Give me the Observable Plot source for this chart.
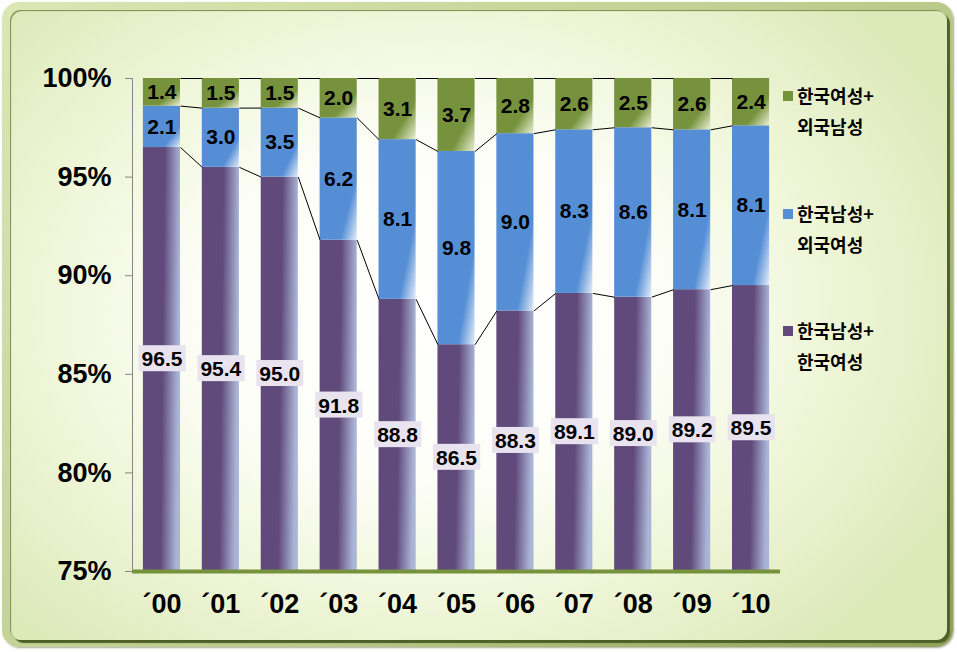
<!DOCTYPE html>
<html><head><meta charset="utf-8">
<script src="https://cdn.jsdelivr.net/npm/d3@7"></script>
<script src="https://cdn.jsdelivr.net/npm/@observablehq/plot@0.6"></script>
<style>
html,body{margin:0;padding:0;background:#fff;}
body{width:957px;height:652px;overflow:hidden;position:relative;font-family:"Liberation Sans",Arial,sans-serif;}
#frame{position:absolute;left:2px;top:2px;width:951px;height:645px;border-radius:17px;
  background:linear-gradient(135deg,#dbe7b5 0%,#b9c988 60%,#8fa158 100%);
  box-shadow:1px 1px 2px rgba(60,70,30,0.45);}
#inner{position:absolute;left:8px;top:8px;width:937px;height:630px;border-radius:11px;
  background:radial-gradient(ellipse 62% 70% at 45% 48%,#ffffff 0%,#fdfef8 38%,#eff6d8 68%,#dce9b9 100%);
  box-shadow:inset 1px 1px 1px #7b8c4a, 3px 3px 1px #4f5f28;}
#chart{position:absolute;left:0;top:0;}
#legend{position:absolute;left:0;top:0;font-family:"Noto Sans CJK KR",sans-serif;font-weight:bold;font-size:18px;color:#000;}
.item{position:absolute;left:783px;line-height:31px;}
.sw{position:absolute;left:0;top:11px;width:10px;height:10px;}
.lbl{position:absolute;left:14px;top:0;white-space:nowrap;}
</style></head>
<body>
<div id="frame"><div id="inner"></div></div>
<div id="chart"></div>
<div id="legend"></div>
<script>
// ---- data ----
const years = ["´00","´01","´02","´03","´04","´05","´06","´07","´08","´09","´10"];
const seriesNames = ["한국남성+\n한국여성","한국남성+\n외국여성","한국여성+\n외국남성"];
const korManKorWoman   = [96.5,95.4,95.0,91.8,88.8,86.5,88.3,89.1,89.0,89.2,89.5];
const korManForWoman   = [2.1,3.0,3.5,6.2,8.1,9.8,9.0,8.3,8.6,8.1,8.1];
const korWomanForMan   = [1.4,1.5,1.5,2.0,3.1,3.7,2.8,2.6,2.5,2.6,2.4];
const yTicks = [75,80,85,90,95,100];

const colors = ["#604a7b","#558ed5","#76923c"];
const gradIds = ["gPurple","gBlue","gGreen"];
const HW = 0.315; // half bar width in band units
const Y0 = yTicks[0];

// ---- stacked table (100% normalised) ----
const rows = [];
years.forEach((yr,i)=>{
  const vals=[korManKorWoman[i],korManForWoman[i],korWomanForMan[i]];
  const tot=d3.sum(vals);
  let acc=0;
  vals.forEach((v,k)=>{
    const lo=acc/tot*100; acc+=v; const hi=acc/tot*100;
    const vlo=Math.max(lo,Y0);
    rows.push({i,k,v,lo,hi,vlo,mid:(vlo+hi)/2});
  });
});
const links=[];
for(let k=0;k<3;k++){
  const s=rows.filter(d=>d.k===k);
  for(let i=0;i<s.length-1;i++) links.push({k,x1:s[i].i+HW,x2:s[i+1].i-HW,y1:s[i].hi,y2:s[i+1].hi});
}

const marks=[];
for(let k=0;k<3;k++){
  marks.push(Plot.rectY(rows.filter(d=>d.k===k),{x1:d=>d.i-HW,x2:d=>d.i+HW,y1:"vlo",y2:"hi",fill:colors[k]}));
}
marks.push(Plot.link(links,{x1:"x1",x2:"x2",y1:"y1",y2:"y2",stroke:"#000",strokeWidth:1}));
marks.push(Plot.ruleX([-0.5],{stroke:"#868686",strokeWidth:1}));
marks.push(Plot.ruleY([Y0],{stroke:"#76923c",strokeWidth:4}));
marks.push(Plot.text(rows.filter(d=>d.k===0),{x:"i",y:"mid",text:d=>d.v.toFixed(1),fontSize:21,fontWeight:"bold",fill:"#000"}));
marks.push(Plot.text(rows.filter(d=>d.k>0),{x:"i",y:"mid",text:d=>d.v.toFixed(1),fontSize:21,fontWeight:"bold",fill:"#000"}));

const chart = Plot.plot({
  width:957,height:652,
  marginLeft:132,marginRight:177,marginTop:78,marginBottom:81,
  style:{background:"transparent",fontFamily:"'Liberation Sans',Arial,sans-serif",fontSize:"27px",fontWeight:"bold",color:"#000",overflow:"visible"},
  x:{domain:[-0.5,10.5],ticks:d3.range(years.length),tickFormat:i=>years[i],tickSize:0,tickPadding:22,label:null},
  y:{domain:[Y0,100],ticks:yTicks,tickFormat:d=>d+"%",tickSize:7,tickPadding:14,label:null},
  marks
});
document.getElementById("chart").appendChild(chart);

// gradients
const ns="http://www.w3.org/2000/svg";
const defs=document.createElementNS(ns,"defs");
defs.innerHTML=`
<linearGradient id="gPurple" x1="0" y1="0" x2="1" y2="0.12">
 <stop offset="0" stop-color="#604a7b"/><stop offset="0.58" stop-color="#604a7b"/><stop offset="1" stop-color="#aab5d6"/></linearGradient>
<linearGradient id="gBlue" x1="0.2" y1="0.3" x2="1" y2="1">
 <stop offset="0" stop-color="#558ed5"/><stop offset="0.68" stop-color="#558ed5"/><stop offset="1" stop-color="#e2ecf8"/></linearGradient>
<linearGradient id="gGreen" x1="0.2" y1="0.2" x2="1" y2="1">
 <stop offset="0" stop-color="#76923c"/><stop offset="0.6" stop-color="#76923c"/><stop offset="1" stop-color="#e9efd2"/></linearGradient>`;
chart.insertBefore(defs,chart.firstChild);
// rect groups appear in mark order
const rectGroups=[...chart.querySelectorAll("g")].filter(g=>g.querySelector(":scope > rect") && g.getAttribute("aria-label")==="rect");
rectGroups.slice(0,3).forEach((g,k)=>{
  g.setAttribute("fill",`url(#${gradIds[k]})`);
  g.querySelectorAll("rect").forEach(r=>r.setAttribute("fill",`url(#${gradIds[k]})`));
});
// label boxes for the bottom series (first text group)
const textGroups=[...chart.querySelectorAll('g[aria-label="text"]')];
const lg=textGroups[0];
if(lg){
  lg.querySelectorAll("text").forEach(t=>{
    const b=t.getBBox();
    const r=document.createElementNS(ns,"rect");
    r.setAttribute("x",b.x-3);r.setAttribute("y",b.y-2);
    r.setAttribute("width",b.width+6);r.setAttribute("height",b.height+3);
    r.setAttribute("fill","#e8e3ee");
    if(t.getAttribute("transform")) r.setAttribute("transform",t.getAttribute("transform"));
    lg.insertBefore(r,t);
  });
}
// axis tick colour
chart.querySelectorAll('g[aria-label="y-axis"] line, g[aria-label="y-axis tick"] path').forEach(l=>l.setAttribute("stroke","#868686"));

// legend (top to bottom: green, blue, purple)
const legend=document.getElementById("legend");
const tops=[80,198,315];
[2,1,0].forEach((k,j)=>{
  const it=document.createElement("div");it.className="item";it.style.top=tops[j]+"px";
  const sw=document.createElement("div");sw.className="sw";sw.style.background=colors[k];
  const lb=document.createElement("div");lb.className="lbl";lb.innerHTML=seriesNames[k].split("\n").join("<br>");
  it.appendChild(sw);it.appendChild(lb);legend.appendChild(it);
});
</script>
</body></html>
